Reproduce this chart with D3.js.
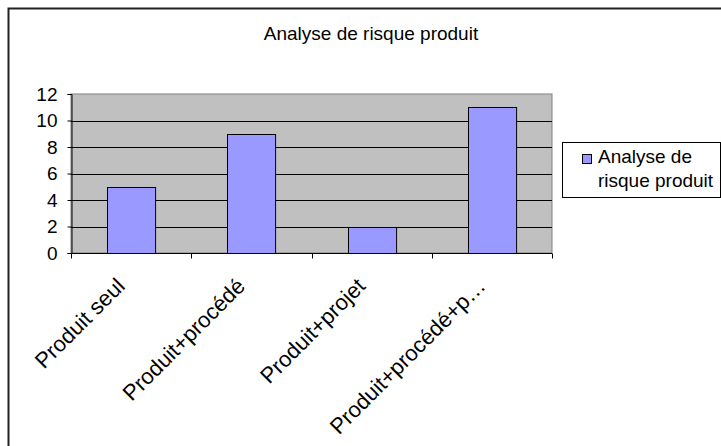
<!DOCTYPE html>
<html><head><meta charset="utf-8">
<script src="https://cdn.jsdelivr.net/npm/d3@7"></script>
<style>body{margin:0;background:#fff;} svg{display:block;font-family:"Liberation Sans",Arial,sans-serif;}</style>
</head><body>
<script>
const categories = ["Produit seul","Produit+procédé","Produit+projet","Produit+procédé+p…"];
const values = [5, 9, 2, 11];
const yTicks = [0,2,4,6,8,10,12];
const seriesName = "Analyse de risque produit";
const title = "Analyse de risque produit";

const W = 721, H = 446;
const svg = d3.select("body").append("svg").attr("width", W).attr("height", H);
svg.append("rect").attr("x", 8.5).attr("y", 8.5).attr("width", 800).attr("height", 600)
  .attr("fill", "#fff").attr("stroke", "#222").attr("stroke-width", 2);

const m = {left: 71, top: 94, right: 552, bottom: 253};
const x = d3.scaleBand().domain(categories).range([m.left, m.right]).paddingInner(0.6).paddingOuter(0.3);
const xb = d3.scaleBand().domain(categories).range([m.left, m.right]);
const y = d3.scaleLinear().domain([0, 12]).range([m.bottom, m.top]);

svg.append("rect").attr("x", m.left).attr("y", m.top).attr("width", m.right - m.left).attr("height", m.bottom - m.top)
  .attr("fill", "#c0c0c0").attr("stroke", "#808080").attr("stroke-width", 1);

svg.append("g").selectAll("line").data(yTicks.filter(d => d > 0 && d < 12)).join("line")
  .attr("x1", m.left).attr("x2", m.right).attr("y1", d => Math.round(y(d)) + 0.5).attr("y2", d => Math.round(y(d)) + 0.5)
  .attr("stroke", "#000").attr("stroke-width", 1);

svg.append("g").selectAll("rect").data(values).join("rect")
  .attr("x", (d, i) => Math.round(x(categories[i])) + 0.5)
  .attr("y", d => Math.round(y(d)) + 0.5)
  .attr("width", x.bandwidth())
  .attr("height", d => y(0) - Math.round(y(d)))
  .attr("fill", "#9999ff").attr("stroke", "#000").attr("stroke-width", 1);

const yAxis = d3.axisLeft(y).tickValues(yTicks).tickSize(4).tickPadding(10);
const gy = svg.append("g").attr("transform", `translate(${m.left + 0.5},0)`).call(yAxis);
gy.selectAll("text").attr("font-size", 19).attr("fill", "#000").attr("font-family", "Liberation Sans, Arial, sans-serif");
gy.select(".domain").attr("stroke", "#000");

const xAxis = d3.axisBottom(xb).tickSize(0).tickFormat("");
const gx = svg.append("g").attr("transform", `translate(0,${m.bottom + 0.5})`).call(xAxis);
gx.select(".domain").attr("d", `M${m.left},0H${m.right}`).attr("stroke", "#000");
gx.selectAll(".tk").data(d3.range(categories.length + 1)).join("line").attr("class", "tk")
  .attr("x1", i => Math.round(m.left + i * xb.step()) + 0.5).attr("x2", i => Math.round(m.left + i * xb.step()) + 0.5)
  .attr("y1", 0).attr("y2", 5).attr("stroke", "#000");
gx.selectAll(".lbl").data(categories).join("text").attr("class", "lbl")
  .attr("transform", d => `translate(${xb(d) + xb.bandwidth() / 2 - 5},${34}) rotate(-45)`)
  .attr("text-anchor", "end").attr("font-size", 22).attr("fill", "#000").text(d => d);

svg.append("text").attr("x", 371).attr("y", 40).attr("text-anchor", "middle").attr("font-size", 19).text(title);

const lg = svg.append("g");
lg.append("rect").attr("x", 562.5).attr("y", 142.5).attr("width", 158).attr("height", 55).attr("fill", "#fff").attr("stroke", "#000");
lg.append("rect").attr("x", 582.5).attr("y", 154.5).attr("width", 9).attr("height", 9).attr("fill", "#9999ff").attr("stroke", "#000");
const words = seriesName.split(" ");
lg.append("text").attr("x", 598).attr("y", 163).attr("font-size", 19).text(words.slice(0, 2).join(" "));
lg.append("text").attr("x", 598).attr("y", 187).attr("font-size", 19).text(words.slice(2).join(" "));
</script>
</body></html>
